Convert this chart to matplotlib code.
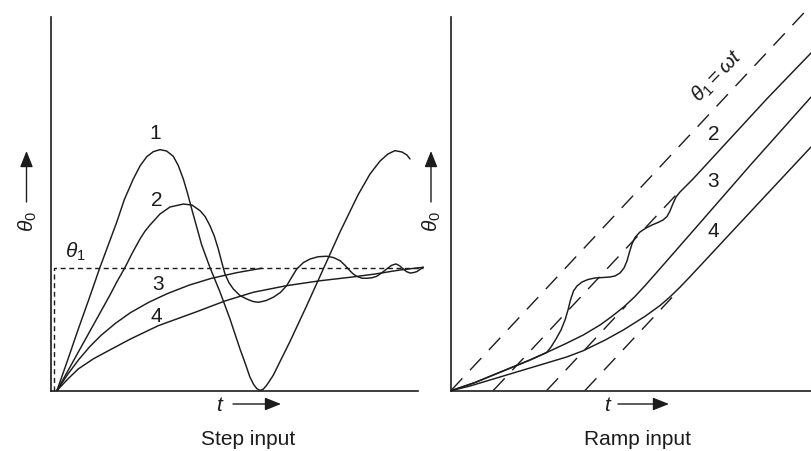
import matplotlib
matplotlib.use("Agg")
import matplotlib.pyplot as plt

plt.rcParams['font.family'] = ['Liberation Sans', 'DejaVu Sans']
plt.rcParams['mathtext.fontset'] = 'custom'
plt.rcParams['mathtext.rm'] = 'Liberation Sans'
plt.rcParams['mathtext.it'] = 'Liberation Sans:italic'

# ---------------- Step input (left panel) ----------------
step_level = 1.0
step_t1 = [0.163, 0.436, 0.744, 1.035, 1.335, 1.790, 2.000, 2.243, 2.430, 2.608,
           2.790, 2.970, 3.150, 3.332, 3.470, 3.605, 3.720, 3.834, 4.106, 4.332,
           4.605, 4.877, 5.150, 5.300, 5.420, 5.520, 5.610, 5.695, 5.780, 5.870,
           5.960, 6.057, 6.280, 6.512, 6.967, 7.420, 7.875, 8.365, 8.692, 8.965,
           9.183, 9.373, 9.564, 9.700, 9.782]
step_y1 = [0.000, 0.233, 0.502, 0.747, 1.006, 1.373, 1.560, 1.727, 1.835, 1.908,
           1.950, 1.966, 1.955, 1.912, 1.835, 1.727, 1.610, 1.482, 1.188, 1.004,
           0.804, 0.584, 0.339, 0.215, 0.110, 0.050, 0.015, 0.000, 0.010, 0.040,
           0.080, 0.125, 0.260, 0.400, 0.692, 0.992, 1.294, 1.596, 1.767, 1.873,
           1.931, 1.958, 1.947, 1.922, 1.890]

step_t2 = [0.163, 0.654, 1.199, 1.608, 1.800, 2.016, 2.220, 2.425, 2.560, 2.698,
           2.970, 3.243, 3.605, 3.842, 4.060, 4.200, 4.332, 4.450, 4.559, 4.650,
           4.741, 4.850, 4.967, 5.150, 5.332, 5.500, 5.649, 5.850, 6.057, 6.250,
           6.422, 6.560, 6.695, 6.880, 7.057, 7.280, 7.512, 7.700, 7.875, 8.000,
           8.101, 8.220, 8.330, 8.470, 8.602, 8.740, 8.875, 9.010, 9.147, 9.280,
           9.401, 9.500, 9.599, 9.690, 9.782, 9.870, 9.965, 10.144]
step_y2 = [0.000, 0.265, 0.559, 0.780, 0.890, 1.004, 1.125, 1.237, 1.300, 1.351,
           1.441, 1.498, 1.522, 1.514, 1.468, 1.420, 1.345, 1.260, 1.155, 1.050,
           0.951, 0.880, 0.829, 0.775, 0.747, 0.727, 0.720, 0.733, 0.761, 0.800,
           0.856, 0.925, 0.992, 1.045, 1.073, 1.092, 1.096, 1.085, 1.060, 1.025,
           0.992, 0.955, 0.932, 0.917, 0.916, 0.920, 0.932, 0.960, 0.992, 1.022,
           1.033, 1.018, 0.992, 0.970, 0.959, 0.962, 0.970, 1.006]

step_t3 = [0.163, 0.463, 0.763, 1.063, 1.363, 1.763, 2.163, 2.663, 3.163, 3.763,
           4.363, 5.063, 5.741]
step_y3 = [0.000, 0.135, 0.255, 0.360, 0.450, 0.550, 0.635, 0.720, 0.790, 0.860,
           0.915, 0.962, 0.998]

step_t4 = [0.163, 0.463, 0.743, 1.163, 1.653, 2.163, 2.923, 3.923, 4.743, 5.513,
           6.423, 7.333, 8.143, 8.833, 9.513, 10.143]
step_y4 = [0.000, 0.095, 0.176, 0.260, 0.339, 0.420, 0.529, 0.638, 0.731, 0.802,
           0.856, 0.896, 0.924, 0.951, 0.984, 1.006]

step_input_t = [0.08, 0.08, 10.14]
step_input_y = [0.0, step_level, step_level]

step_labels = ['1', '2', '3', '4']
step_label_t = [2.83, 2.88, 2.92, 2.88]
step_label_y = [2.11, 1.56, 0.87, 0.61]

# ---------------- Ramp input (right panel) ----------------
ramp_in_t = [0.0, 10.0]
ramp_in_y = [0.0, 10.7]

ramp_t2 = [0.019, 0.667, 1.547, 2.194, 2.658, 2.778, 2.917, 3.056, 3.167, 3.250,
           3.319, 3.403, 3.500, 3.639, 3.806, 4.000, 4.222, 4.417, 4.556, 4.694,
           4.806, 4.889, 4.958, 5.028, 5.111, 5.250, 5.417, 5.583, 5.750, 5.889,
           6.000, 6.083, 6.167, 6.250, 6.361, 6.500, 6.722, 8.769, 10.0]
ramp_y2 = [0.000, 0.222, 0.583, 0.847, 1.056, 1.208, 1.431, 1.681, 1.958, 2.236,
           2.514, 2.764, 2.903, 3.014, 3.083, 3.125, 3.139, 3.153, 3.181, 3.264,
           3.403, 3.597, 3.847, 4.069, 4.250, 4.403, 4.514, 4.597, 4.667, 4.736,
           4.833, 4.986, 5.194, 5.375, 5.514, 5.653, 5.875, 8.097, 9.375]

ramp_t3 = [0.019, 0.667, 1.547, 2.194, 2.658, 3.167, 3.675, 4.139, 4.472, 4.786,
           5.100, 5.400, 5.714, 6.825, 8.306, 10.0]
ramp_y3 = [0.000, 0.222, 0.583, 0.847, 1.056, 1.292, 1.542, 1.819, 2.060, 2.310,
           2.600, 2.925, 3.280, 4.550, 6.250, 8.150]

ramp_t4 = [0.019, 0.528, 1.175, 1.917, 2.658, 3.214, 3.675, 4.278, 4.786, 5.389,
           5.806, 6.083, 6.361, 6.600, 6.825, 8.306, 10.0]
ramp_y4 = [0.000, 0.125, 0.319, 0.542, 0.764, 0.931, 1.106, 1.400, 1.680, 2.060,
           2.360, 2.600, 2.870, 3.120, 3.360, 4.950, 6.764]

# steady-state lag asymptotes (start, end) for curves 2, 3, 4
lag_t = [[1.175, 6.389], [2.658, 4.861], [3.722, 6.139]]
lag_y = [[0.0, 5.579], [0.0, 2.357], [0.0, 2.586]]

ramp_labels = ['2', '3', '4']
ramp_label_t = [7.29, 7.29, 7.29]
ramp_label_y = [7.125, 5.83, 4.44]

W, H = 811, 452
fig = plt.figure(figsize=(W / 100, H / 100), dpi=100)
fig.patch.set_facecolor('white')

def fx(x):
    return x / W

def fy(y):
    return 1 - y / H

ink = '#1c1c1c'
lw = 1.05
fs = 15

# ---- left axes
axL = fig.add_axes([fx(51), fy(391.5), 378 / W, 379.75 / H])
axL.set_xlim(0, 10.3)
axL.set_ylim(0, 3.1)
for t, y in [(step_t1, step_y1), (step_t2, step_y2), (step_t3, step_y3), (step_t4, step_y4)]:
    axL.plot(t, y, color=ink, lw=lw, solid_joinstyle='round', solid_capstyle='round',
             clip_on=False)
axL.plot(step_input_t, step_input_y, color=ink, lw=1.0, dashes=(3.6, 2.6), clip_on=False)
for s, t, y in zip(step_labels, step_label_t, step_label_y):
    axL.text(t, y, s, fontsize=fs, ha='center', va='center', color=ink)
axL.text(0.65, 1.14, r'$\theta_1$', fontsize=fs, ha='center', va='center', color=ink)

# ---- right axes
axR = fig.add_axes([fx(451), fy(391.5), 360 / W, 385.2 / H])
axR.set_xlim(0, 10)
axR.set_ylim(0, 10.7)
axR.plot(ramp_in_t, ramp_in_y, color=ink, lw=1.0, dashes=(12, 8), clip_on=False)
for t, y in zip(lag_t, lag_y):
    axR.plot(t, y, color=ink, lw=1.0, dashes=(12, 8), clip_on=False)
for t, y in [(ramp_t3, ramp_y3), (ramp_t4, ramp_y4), (ramp_t2, ramp_y2)]:
    axR.plot(t, y, color=ink, lw=lw, solid_joinstyle='round', solid_capstyle='round',
             clip_on=False)
for s, t, y in zip(ramp_labels, ramp_label_t, ramp_label_y):
    axR.text(t, y, s, fontsize=fs, ha='center', va='center', color=ink)
axR.text(7.40, 8.76, r'$\theta_1 = \omega t$', fontsize=fs, ha='center', va='center',
         rotation=46, rotation_mode='anchor', color=ink)

for ax, top, right in [(axL, 3.05, 10.0), (axR, 10.375, 10.0)]:
    ax.set_xticks([])
    ax.set_yticks([])
    ax.patch.set_alpha(0)
    ax.spines['top'].set_visible(False)
    ax.spines['right'].set_visible(False)
    for sp in ('left', 'bottom'):
        ax.spines[sp].set_color(ink)
        ax.spines[sp].set_linewidth(1.2)
    ax.spines['left'].set_bounds(0, top)
    ax.spines['bottom'].set_bounds(0, right)

# ---- axis labels with arrows (figure pixel positions)
def arrow(x0, y0, x1, y1):
    fig.add_artist(matplotlib.patches.FancyArrowPatch(
        (fx(x0), fy(y0)), (fx(x1), fy(y1)), transform=fig.transFigure,
        arrowstyle='-|>,head_length=0.7,head_width=0.28', mutation_scale=14,
        color=ink, lw=1.0, shrinkA=0, shrinkB=0))

for xc in (27.5, 432):
    fig.text(fx(xc), fy(222), r'$\theta_0$', fontsize=fs, rotation=90,
             ha='center', va='center', color=ink)
    arrow(xc - 1, 203, xc - 1, 152)

for xt, xa0, xa1 in [(220, 233, 281), (608, 618, 669)]:
    fig.text(fx(xt), fy(406), r'$t$', fontsize=fs, ha='center', va='center', color=ink)
    arrow(xa0, 405, xa1, 405)

fig.text(fx(248), fy(440), 'Step input', fontsize=fs, ha='center', va='center', color=ink)
fig.text(fx(638), fy(440), 'Ramp input', fontsize=fs, ha='center', va='center', color=ink)

fig.savefig('out.png', dpi=100, facecolor='white')
